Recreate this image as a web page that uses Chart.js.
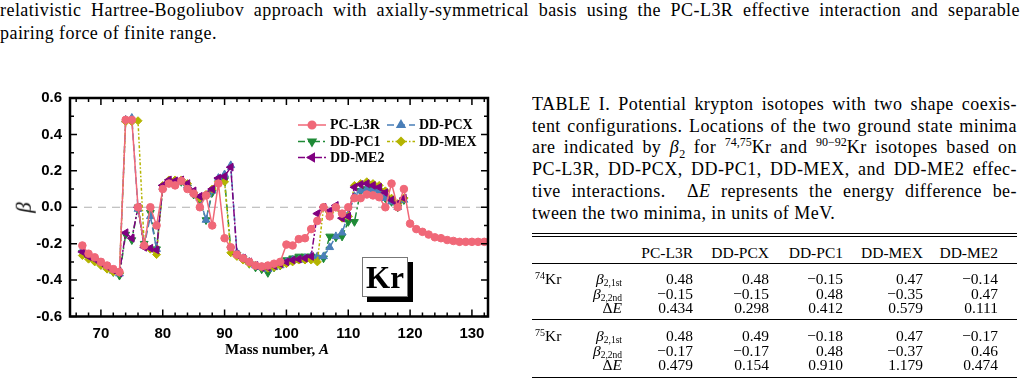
<!DOCTYPE html>
<html>
<head>
<meta charset="utf-8">
<script src="https://cdn.jsdelivr.net/npm/chart.js@4.4.0/dist/chart.umd.min.js"></script>
<style>
  body { margin: 0; width: 1029px; height: 382px; overflow: hidden; background: #fff; position: relative; font-family: "Liberation Serif", serif; color: #000; }
  .ln { position: absolute; font-size: 18px; letter-spacing: 0.45px; line-height: 20px; height: 21px; overflow: hidden; text-align: justify; text-align-last: justify; }
  .ln sub, .ln sup { font-size: 12px; line-height: 0; letter-spacing: 0; }
  #plot { position: absolute; left: 0; top: 0; }
  .ov { position: absolute; white-space: nowrap; }
  .cell { position: absolute; font-size: 15.5px; line-height: 16px; white-space: nowrap; }
  .cell sup { font-size: 10px; line-height: 0; vertical-align: 5px; }
  .cell sub { font-size: 9.5px; line-height: 0; vertical-align: -2px; }
  .rule { position: absolute; left: 532px; width: 485px; background: #000; }
  #krbox { position: absolute; left: 362px; top: 257px; width: 44px; height: 38px; border: 1px solid #777; background: #fff; box-shadow: 5px 5px 0 #000; font: bold 31px "Liberation Serif", serif; text-align: center; line-height: 39px; }
</style>
</head>
<body>
<div class="ln" style="left:0;top:0;width:1020px">relativistic Hartree-Bogoliubov approach with axially-symmetrical basis using the PC-L3R effective interaction and separable</div>
<div class="ln" style="left:0;top:23px;width:400px;text-align-last:left">pairing force of finite range.</div>

<canvas id="plot" width="500" height="382"></canvas>
<div class="ov" style="left:19px;top:195px;font:italic 21px 'Liberation Serif',serif;transform:rotate(-90deg)">β</div>
<div class="ov" style="left:225px;top:341px;font:bold 15px 'Liberation Serif',serif">Mass number, <i>A</i></div>
<div id="krbox">Kr</div>

<div class="ln" style="left:532px;top:94px;width:485px">TABLE I. Potential krypton isotopes with two shape coexis-</div>
<div class="ln" style="left:532px;top:116px;width:485px">tent configurations. Locations of the two ground state minima</div>
<div class="ln" style="left:532px;top:137px;width:485px">are indicated by <i>β</i><sub>2</sub> for <sup>74,75</sup>Kr and <sup>90−92</sup>Kr isotopes based on</div>
<div class="ln" style="left:532px;top:159px;width:485px">PC-L3R, DD-PCX, DD-PC1, DD-MEX, and DD-ME2 effec-</div>
<div class="ln" style="left:532px;top:181px;width:485px">tive interactions. &nbsp;Δ<i>E</i> represents the energy difference be-</div>
<div class="ln" style="left:532px;top:203px;width:485px;text-align-last:left">tween the two minima, in units of MeV.</div>

<div class="rule" style="top:233px;height:1px"></div>
<div class="rule" style="top:236px;height:1px"></div>
<div class="rule" style="top:263px;height:1px"></div>
<div class="rule" style="top:319px;height:1px"></div>
<div class="rule" style="top:377px;height:1px"></div>
<div id="table"></div>

<script>
// mass numbers
const massL3R = [67,68,69,70,71,72,73,74,75,76,77,78,79,80,81,82,83,84,85,86,87,88,89,90,91,92,93,94,95,96,
  97,98,99,100,101,102,103,104,105,106,107,108,109,110,111,112,113,114,115,116,117,118,119,120,121,122,123,124,125,126,
  127,128,129,130,131,132];
const massDD = [67,68,69,70,71,72,73,74,75,76,77,78,79,80,81,82,83,84,85,86,87,88,89,90,91,92,93,94,95,96,
  97,98,99,100,101,102,103,104,105,106,107,108,109,110,111,112,113,114,115,116,117,118,119];

// beta_2 values
const betaL3R = [-0.21,-0.255,-0.275,-0.30,-0.32,-0.34,-0.355,0.48,0.48,0.00,
  -0.21,0.00,-0.10,0.10,0.13,0.12,0.145,0.10,0.075,0.00,
  0.065,-0.10,0.13,-0.17,-0.22,-0.26,-0.28,-0.30,-0.32,-0.325,
  -0.32,-0.31,-0.30,-0.205,-0.21,-0.175,-0.17,-0.12,-0.075,0.00,
  -0.05,0.00,-0.035,0.00,0.05,0.05,0.07,0.065,0.055,0.00,
  0.13,0.00,0.10,-0.09,-0.12,-0.135,-0.15,-0.165,-0.17,-0.18,
  -0.185,-0.19,-0.19,-0.19,-0.19,-0.19];
const betaPCX = [-0.235,-0.265,-0.285,-0.305,-0.33,-0.35,-0.365,0.48,0.49,-0.01,
  -0.21,-0.05,-0.23,0.11,0.14,0.14,0.14,0.12,0.08,0.05,
  -0.07,0.09,0.16,0.18,0.23,-0.25,-0.28,-0.30,-0.32,-0.33,
  -0.34,-0.33,-0.32,-0.30,-0.29,-0.29,-0.28,-0.27,-0.27,-0.27,
  -0.22,-0.16,-0.14,-0.04,0.06,0.09,0.10,0.10,0.09,0.05,
  0.03,0.00,0.04];
const betaPC1 = [-0.25,-0.275,-0.29,-0.315,-0.335,-0.355,-0.375,-0.15,-0.18,0.00,
  -0.20,-0.03,-0.23,0.11,0.14,0.14,0.14,0.11,0.07,0.04,
  -0.07,0.08,0.15,0.15,-0.23,-0.26,-0.28,-0.31,-0.33,-0.34,
  -0.36,-0.33,-0.32,-0.29,-0.28,-0.27,-0.27,-0.27,-0.28,-0.28,
  -0.16,-0.165,-0.16,-0.08,-0.08,0.09,0.10,0.10,0.09,0.05,
  0.03,0.00,0.04];
const betaMEX = [-0.265,-0.285,-0.30,-0.32,-0.34,-0.355,-0.36,0.47,0.47,0.475,
  -0.21,-0.23,-0.26,0.12,0.15,0.15,0.15,0.13,0.08,0.05,
  0.07,0.10,0.14,0.14,-0.25,-0.27,-0.29,-0.31,-0.32,-0.33,
  -0.335,-0.33,-0.32,-0.31,-0.30,-0.29,-0.29,-0.29,-0.30,0.00,
  -0.03,0.00,-0.06,-0.05,0.12,0.13,0.14,0.13,0.12,0.09,
  0.05,0.02,0.05];
const betaME2 = [-0.245,-0.27,-0.285,-0.305,-0.325,-0.345,-0.36,-0.14,-0.17,0.00,
  -0.22,-0.225,-0.235,0.12,0.15,0.145,0.15,0.13,0.09,0.06,
  0.07,0.10,0.16,0.17,0.22,-0.26,-0.28,-0.30,-0.32,-0.33,
  -0.33,-0.32,-0.31,-0.30,-0.29,-0.285,-0.28,-0.27,-0.035,0.00,
  -0.02,0.01,-0.06,-0.05,0.11,0.125,0.13,0.12,0.11,0.08,
  0.04,0.02,0.05];

// axis ticks
const xTicks = [66,68,70,72,74,76,78,80,82,84,86,88,90,92,94,96,98,100,102,104,106,108,110,112,114,116,118,120,122,124,126,128,130,132];
const xLabels = [70,80,90,100,110,120,130];
const yTicks = [-0.6,-0.5,-0.4,-0.3,-0.2,-0.1,0,0.1,0.2,0.3,0.4,0.5,0.6];
const yLabels = [-0.6,-0.4,-0.2,0,0.2,0.4,0.6];

// table data
const tableCols = ["PC-L3R","DD-PCX","DD-PC1","DD-MEX","DD-ME2"];
const kr74 = [["0.48","0.48","−0.15","0.47","−0.14"],["−0.15","−0.15","0.48","−0.35","0.47"],["0.434","0.298","0.412","0.579","0.111"]];
const kr75 = [["0.48","0.49","−0.18","0.47","−0.17"],["−0.17","−0.17","0.48","−0.37","0.46"],["0.479","0.154","0.910","1.179","0.474"]];

const colRight = [693, 769, 843, 923, 998];
const rowNames = ['<i>β</i><sub>2,1st</sub>','<i>β</i><sub>2,2nd</sub>','Δ<i>E</i>'];
let html = "";
tableCols.forEach((c, i) => {
  html += `<div class="cell" style="right:${1029 - colRight[i]}px;top:245px">${c}</div>`;
});
[[74, kr74, 271], [75, kr75, 328]].forEach(([a, rows, top]) => {
  html += `<div class="cell" style="left:535px;top:${top}px"><sup>${a}</sup>Kr</div>`;
  rows.forEach((r, j) => {
    const t = top + j * 14.5;
    html += `<div class="cell" style="right:${1029 - 622}px;top:${t}px">${rowNames[j]}</div>`;
    r.forEach((v, i) => {
      html += `<div class="cell" style="right:${1029 - colRight[i]}px;top:${t}px">${v}</div>`;
    });
  });
});
document.getElementById("table").innerHTML = html;

function series(label, mass, ys, color, dash, style, rot, r) {
  return {
    label,
    data: ys.map((v, i) => ({ x: mass[i], y: v })),
    borderColor: color,
    backgroundColor: color,
    borderWidth: 1.5,
    borderDash: dash,
    pointStyle: style,
    rotation: rot,
    pointRadius: r,
    pointBorderWidth: 1,
    tension: 0
  };
}

const datasets = [
  series("PC-L3R", massL3R, betaL3R, "#f06878", [], "circle", 0, 3.8),
  series("DD-ME2", massDD, betaME2, "#800080", [7,2,2,2,2,2], "triangle", -90, 4.5),
  series("DD-MEX", massDD, betaMEX, "#b4b400", [3,2,1.5,2], "rectRot", 0, 4),
  series("DD-PCX", massDD, betaPCX, "#4a7fb8", [7,4], "triangle", 0, 4.5),
  series("DD-PC1", massDD, betaPC1, "#1e8a36", [7,3,2,3], "triangle", 180, 4.5)
];

// legend layout: [dataset index, x, y]
const legendSlots = [[0, 298, 125], [3, 387, 125], [4, 298, 141.5], [2, 387, 141.5], [1, 298, 157.5]];

const framePlugin = {
  id: "frame",
  beforeDatasetsDraw(chart) {
    const { ctx, chartArea: a, scales: { y } } = chart;
    const y0 = y.getPixelForValue(0);
    ctx.save();
    ctx.strokeStyle = "#b0b0b0";
    ctx.lineWidth = 1.2;
    ctx.setLineDash([8, 6]);
    ctx.beginPath();
    ctx.moveTo(a.left, y0);
    ctx.lineTo(a.right, y0);
    ctx.stroke();
    ctx.restore();
  },
  afterDatasetsDraw(chart) {
    const { ctx, chartArea: a, scales: { x, y } } = chart;
    ctx.save();
    ctx.strokeStyle = "#000";
    ctx.lineWidth = 1.5;
    ctx.beginPath();
    xTicks.forEach(v => {
      const px = x.getPixelForValue(v);
      const len = v % 10 === 0 ? 7 : 4;
      ctx.moveTo(px, a.bottom); ctx.lineTo(px, a.bottom - len);
      ctx.moveTo(px, a.top); ctx.lineTo(px, a.top + len);
    });
    yTicks.forEach((v, i) => {
      const py = y.getPixelForValue(v);
      const len = i % 2 === 0 ? 7 : 4;
      ctx.moveTo(a.left, py); ctx.lineTo(a.left + len, py);
      ctx.moveTo(a.right, py); ctx.lineTo(a.right - len, py);
    });
    ctx.stroke();
    ctx.lineWidth = 2.5;
    ctx.strokeRect(a.left, a.top, a.right - a.left, a.bottom - a.top);

    // legend
    legendSlots.forEach(([i, lx, ly]) => {
      const ds = chart.data.datasets[i];
      ctx.strokeStyle = ds.borderColor;
      ctx.fillStyle = ds.borderColor;
      ctx.lineWidth = 1.5;
      ctx.setLineDash(ds.borderDash);
      ctx.beginPath();
      ctx.moveTo(lx, ly);
      ctx.lineTo(lx + 28, ly);
      ctx.stroke();
      ctx.setLineDash([]);
      Chart.helpers.drawPoint(ctx, { pointStyle: ds.pointStyle, rotation: ds.rotation, radius: ds.pointRadius, borderWidth: 1 }, lx + 14, ly);
      ctx.fillStyle = "#000";
      ctx.font = "bold 14px 'Liberation Serif'";
      ctx.textBaseline = "middle";
      ctx.fillText(ds.label, lx + 32, ly + 0.5);
    });
    ctx.restore();
  }
};

const tickFont = { family: "'Liberation Sans', Arial", size: 15, weight: "bold" };

new Chart(document.getElementById("plot"), {
  type: "line",
  data: { datasets },
  plugins: [framePlugin],
  options: {
    responsive: false,
    animation: false,
    devicePixelRatio: 1,
    layout: { padding: { top: 98, right: 12, left: 0, bottom: 0 } },
    plugins: { legend: { display: false }, tooltip: { enabled: false } },
    scales: {
      x: {
        type: "linear",
        min: 65,
        max: 132.6,
        grid: { display: false, drawTicks: false },
        border: { display: false },
        afterBuildTicks: s => { s.ticks = xTicks.map(v => ({ value: v })); },
        afterFit: s => { s.height = 65.5; },
        ticks: {
          autoSkip: false,
          maxRotation: 0,
          padding: 8,
          color: "#000",
          font: tickFont,
          callback: v => xLabels.includes(v) ? String(v) : ""
        }
      },
      y: {
        type: "linear",
        min: -0.6,
        max: 0.6,
        grid: { display: false, drawTicks: false },
        border: { display: false },
        afterBuildTicks: s => { s.ticks = yLabels.map(v => ({ value: v })); },
        afterFit: s => { s.width = 70; },
        ticks: {
          padding: 8,
          color: "#000",
          font: tickFont,
          callback: v => v.toFixed(1)
        }
      }
    }
  }
});
</script>
</body>
</html>
